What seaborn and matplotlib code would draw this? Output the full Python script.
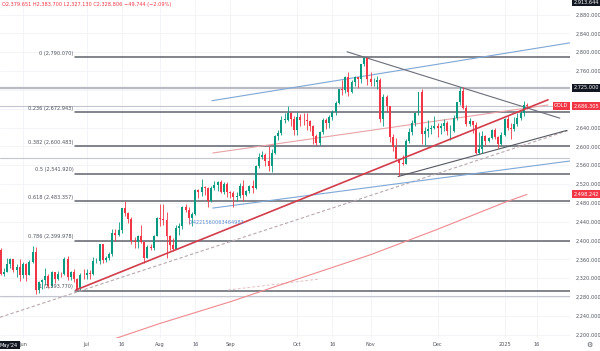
import numpy as np
import matplotlib
matplotlib.use("Agg")
import matplotlib.pyplot as plt
import matplotlib.transforms as mtransforms
import seaborn as sns

# ===== OHLC DATA (daily bars, index 0 = 23 May 2024, last = 13 Jan 2025) =====
opens = [2379, 2329, 2334, 2351, 2361, 2338, 2343,
         2327, 2350, 2327, 2355, 2375, 2294, 2311, 2316, 2325, 2303, 2333, 2319, 2329, 2328, 2360, 2322, 2334, 2319, 2298, 2327,
         2326, 2332, 2330, 2356, 2356, 2392, 2359, 2364, 2371, 2415, 2411, 2422, 2469, 2459, 2445, 2400, 2396, 2409, 2397, 2364, 2387, 2384, 2410,
         2447, 2446, 2443, 2409, 2390, 2382, 2427, 2431, 2472, 2465, 2447, 2456, 2507, 2504, 2514, 2512, 2484, 2512, 2517, 2524, 2504, 2520,
         2503, 2500, 2493, 2495, 2516, 2497, 2506, 2516, 2512, 2558, 2578, 2582, 2570, 2559, 2587, 2622, 2628, 2657, 2657, 2672, 2658,
         2634, 2663, 2657, 2656, 2653, 2644, 2622, 2608, 2630, 2657, 2649, 2662, 2674, 2693, 2721, 2720, 2748, 2715, 2736, 2747, 2743, 2774, 2788,
         2743, 2736, 2736, 2742, 2659, 2706, 2685, 2619, 2598, 2573, 2565, 2563, 2612, 2631, 2650, 2670, 2715, 2626, 2632, 2638, 2640,
         2643, 2640, 2643, 2650, 2632, 2633, 2660, 2694, 2718, 2681, 2648, 2653, 2646, 2587, 2594, 2622, 2612, 2618, 2634, 2621, 2606,
         2624, 2658, 2640, 2636, 2648, 2661, 2670, 2689]
highs = [2384, 2342, 2364, 2364, 2361, 2351, 2360,
         2354, 2353, 2358, 2388, 2387, 2314, 2319, 2342, 2328, 2335, 2334, 2336, 2334, 2365, 2368, 2335, 2339, 2320, 2331, 2339,
         2339, 2337, 2365, 2363, 2392, 2393, 2368, 2375, 2424, 2424, 2440, 2469, 2483, 2461, 2450, 2407, 2412, 2432, 2399, 2390, 2393, 2412, 2451,
         2477, 2477, 2461, 2412, 2405, 2432, 2438, 2474, 2477, 2472, 2460, 2509, 2509, 2531, 2516, 2513, 2516, 2527, 2526, 2529, 2525, 2525,
         2506, 2505, 2503, 2523, 2529, 2508, 2518, 2529, 2560, 2586, 2590, 2585, 2600, 2595, 2625, 2634, 2664, 2670, 2685, 2674, 2665,
         2673, 2669, 2672, 2670, 2657, 2645, 2626, 2633, 2661, 2660, 2666, 2677, 2697, 2722, 2740, 2749, 2758, 2740, 2749, 2748, 2775, 2790, 2790,
         2758, 2745, 2750, 2746, 2711, 2709, 2685, 2627, 2618, 2573, 2582, 2615, 2639, 2656, 2673, 2716, 2721, 2642, 2657, 2645, 2665,
         2650, 2650, 2658, 2654, 2645, 2666, 2695, 2726, 2726, 2689, 2661, 2654, 2651, 2631, 2632, 2625, 2620, 2638, 2639, 2623, 2630,
         2661, 2665, 2650, 2662, 2670, 2675, 2697, 2693]
lows = [2327, 2325, 2333, 2341, 2334, 2322, 2314,
        2321, 2314, 2326, 2352, 2286, 2288, 2298, 2306, 2300, 2301, 2310, 2316, 2323, 2327, 2316, 2317, 2311, 2294, 2296, 2318,
        2319, 2318, 2327, 2353, 2350, 2353, 2354, 2359, 2367, 2399, 2410, 2416, 2453, 2438, 2392, 2384, 2385, 2395, 2353, 2364, 2379, 2380, 2409,
        2431, 2432, 2364, 2380, 2378, 2382, 2411, 2424, 2460, 2436, 2430, 2454, 2491, 2495, 2497, 2471, 2481, 2508, 2505, 2500, 2499, 2492,
        2490, 2472, 2485, 2490, 2485, 2495, 2500, 2500, 2510, 2555, 2574, 2559, 2547, 2546, 2584, 2613, 2625, 2650, 2654, 2643, 2625,
        2624, 2643, 2645, 2635, 2633, 2605, 2604, 2603, 2627, 2638, 2640, 2656, 2667, 2691, 2709, 2714, 2708, 2714, 2728, 2725, 2734, 2771, 2730,
        2729, 2728, 2723, 2652, 2643, 2674, 2610, 2590, 2573, 2537, 2560, 2562, 2608, 2625, 2643, 2666, 2605, 2603, 2621, 2627, 2637,
        2621, 2627, 2633, 2625, 2614, 2631, 2656, 2689, 2679, 2643, 2643, 2629, 2583, 2583, 2585, 2604, 2609, 2616, 2616, 2597, 2603,
        2622, 2634, 2615, 2632, 2643, 2656, 2665, 2680]
closes = [2329, 2334, 2351, 2361, 2338, 2343, 2327,
          2350, 2327, 2355, 2375, 2294, 2311, 2316, 2325, 2303, 2333, 2319, 2329, 2328, 2360, 2322, 2334, 2319, 2298, 2327, 2326,
          2332, 2330, 2356, 2356, 2392, 2359, 2364, 2371, 2415, 2411, 2422, 2469, 2459, 2445, 2400, 2396, 2409, 2397, 2364, 2387, 2384, 2410, 2447,
          2446, 2443, 2409, 2390, 2382, 2427, 2431, 2472, 2465, 2447, 2456, 2507, 2504, 2514, 2512, 2484, 2512, 2517, 2524, 2504, 2520, 2503,
          2500, 2493, 2495, 2516, 2497, 2506, 2516, 2512, 2558, 2578, 2582, 2570, 2559, 2587, 2622, 2628, 2657, 2657, 2672, 2658, 2634,
          2663, 2657, 2656, 2653, 2644, 2622, 2608, 2630, 2657, 2649, 2662, 2674, 2693, 2721, 2720, 2748, 2715, 2736, 2747, 2743, 2774, 2788, 2743,
          2736, 2736, 2742, 2659, 2706, 2685, 2619, 2598, 2573, 2565, 2563, 2612, 2631, 2650, 2670, 2715, 2626, 2632, 2638, 2640, 2643,
          2640, 2643, 2650, 2632, 2633, 2660, 2694, 2718, 2681, 2648, 2653, 2646, 2587, 2594, 2622, 2612, 2618, 2634, 2621, 2606, 2624,
          2658, 2640, 2636, 2648, 2661, 2670, 2689, 2686]

# 200-day moving average (pink curve), read at a few bars
ma_idx = [36, 50, 72, 93, 116, 137, 158, 165]
ma_val = [2192, 2224, 2270, 2318, 2370, 2424, 2481, 2498]

# Fibonacci retracement levels
fib_ratio = ["0", "0.236", "0.382", "0.5", "0.618", "0.786", "1"]
fib_price = [2790.070, 2672.943, 2600.483, 2541.920, 2483.357, 2399.978, 2293.770]

# drawn trend lines: (x0, y0, x1, y1) in bar index / price
red_trend = (23.6, 2295, 171.6, 2699)
pink_trend = (66.5, 2586, 171.6, 2688)
desc_trend = (108.6, 2801, 175.3, 2660)
rise_trend = (124.6, 2536, 177.5, 2634)
blue_upper = (66.2, 2697, 178.5, 2820)
blue_lower = (66.5, 2469, 178.5, 2569)
dash_trend = (-0.2, 2237, 178.5, 2635)
dash_short = (71.3, 2295, 99.5, 2318)

# horizontal light lines
hlines_light = [2725, 2686.305, 2575.5, 2282]

# axes
price_ticks = [2200, 2240, 2280, 2320, 2360, 2400, 2440, 2480, 2520, 2560, 2600,
               2640, 2760, 2800, 2840, 2880]
date_pos = [7, 27, 38, 50, 61, 72, 93, 104, 116, 137, 158, 168]
date_lab = ["Jun", "Jul", "16", "Aug", "16", "Sep", "Oct", "16", "Nov", "Dec", "2025", "16"]

GREEN = "#089981"
RED = "#f23645"
TXT = "#50535e"
FS = 3.6

sns.set_style("white")
plt.rcParams['font.family'] = ['DejaVu Sans']

fig = plt.figure(figsize=(6, 3.51), dpi=100)
ax = fig.add_axes([0, 13 / 351, 570 / 600, 338 / 351])

# ===== GRID =====
for p in price_ticks + [2680, 2720]:
    ax.axhline(p, color="#f0f2f6", lw=0.6, zorder=0)
for d in date_pos:
    ax.axvline(d, color="#f0f2f6", lw=0.6, zorder=0)

# ===== HORIZONTAL LINES =====
ax.axhline(hlines_light[0], color="#b8bbc4", lw=1.6, zorder=1)
for p in hlines_light[1:]:
    ax.axhline(p, color="#c3c6ce", lw=0.8, zorder=1)

# ===== FIB RETRACEMENT =====
for r, p in zip(fib_ratio, fib_price):
    ax.plot([23.3, 179], [p, p], color="#60636d", lw=1.1, zorder=2)
    ax.text(22.8, p + 3, f"{r} ({p:,.3f})", ha="right", va="bottom",
            fontsize=FS, color=TXT, zorder=6)

# ===== TREND LINES =====
def seg(t, **kw):
    ax.plot([t[0], t[2]], [t[1], t[3]], **kw)

seg(dash_trend, color="#b9a9ad", lw=0.8, ls=(0, (3, 2)), zorder=2)
seg(dash_short, color="#e6c3c6", lw=0.7, ls=(0, (3, 2)), zorder=2)
seg(blue_upper, color="#7fa7d6", lw=0.8, zorder=2)
seg(blue_lower, color="#7fa7d6", lw=0.8, zorder=2)
seg(pink_trend, color="#e7a3a6", lw=0.8, zorder=2)
seg(desc_trend, color="#6a6d78", lw=0.8, zorder=2)
seg(rise_trend, color="#55585f", lw=0.8, zorder=2)
seg(red_trend, color="#d23d4b", lw=1.2, zorder=5)

sns.lineplot(x=ma_idx, y=ma_val, color="#ef8a8f", lw=0.8, ax=ax, zorder=2)

ax.text(59, 2439, "0.4221560063464983", ha="left", va="center",
        fontsize=FS, color="#5b8ccf", zorder=6)

# ===== CANDLES =====
o = np.array(opens, float)
h = np.array(highs, float)
l = np.array(lows, float)
c = np.array(closes, float)
idx = np.arange(len(c))
col = np.where(c >= o, GREEN, RED)
ax.vlines(idx, l, h, colors=col, lw=0.6, zorder=3)
ax.bar(idx, np.maximum(np.abs(c - o), 0.8), bottom=np.minimum(o, c),
       width=0.62, color=col, linewidth=0, zorder=4)

# ===== AXES =====
ax.set_xlim(-0.2, 178.5)
ax.set_ylim(2193, 2911)
for s in ax.spines.values():
    s.set_visible(False)
ax.yaxis.tick_right()
ax.set_yticks(price_ticks)
ax.set_yticklabels([f"{p:,.3f}" for p in price_ticks])
ax.set_xticks(date_pos)
ax.set_xticklabels(date_lab)
ax.tick_params(axis="both", length=0, labelsize=FS, labelcolor=TXT)
ax.tick_params(axis="y", pad=4)
ax.tick_params(axis="x", pad=3)

# ===== PRICE LABELS =====
tr = mtransforms.blended_transform_factory(ax.transAxes, ax.transData)
box_kw = dict(transform=tr, ha="left", va="center", fontsize=FS, color="white", clip_on=False)
ax.text(1.006, 2725, "2,725.000", bbox=dict(boxstyle="square,pad=0.3", fc="#131722", ec="none"), **box_kw)
ax.text(1.006, 2686.305, "2,686.305", bbox=dict(boxstyle="square,pad=0.3", fc=RED, ec="none"), **box_kw)
ax.text(0.997, 2686.305, "GOLD", transform=tr, ha="right", va="center", fontsize=FS,
        color="white", bbox=dict(boxstyle="square,pad=0.3", fc=RED, ec="none"), clip_on=False)
ax.text(1.006, 2498.242, "2,498.242", bbox=dict(boxstyle="square,pad=0.3", fc=RED, ec="none"), **box_kw)
ax.text(1.006, 2906, "2,913.644", bbox=dict(boxstyle="square,pad=0.3", fc="#131722", ec="none"), **box_kw)

fig.text(0.004, 0.986, "O2,379.651 H2,383.700 L2,327.130 C2,328.806 \u221249.744 (\u22122.09%)",
         ha="left", va="center", fontsize=FS, color=RED)
fig.text(0.0, 0.017, "May'24", ha="left", va="center", fontsize=FS, color="white",
         bbox=dict(boxstyle="square,pad=0.3", fc="#131722", ec="none"))
fig.text(0.982, 0.017, "\u2699", ha="center", va="center", fontsize=5, color=TXT)

fig.savefig("out.png", dpi=100)
